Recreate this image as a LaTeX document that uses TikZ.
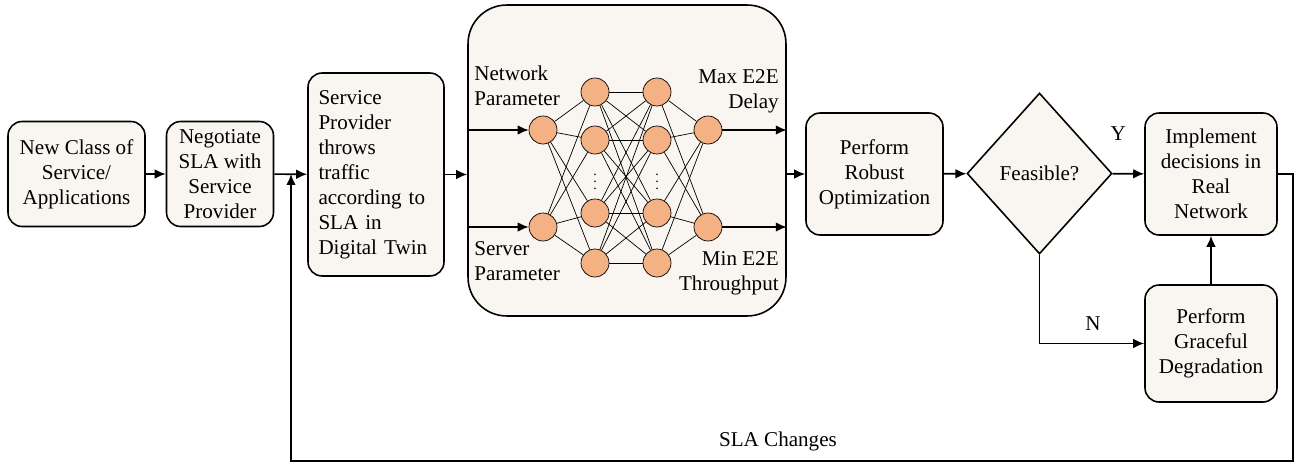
\documentclass[tikz,border=0pt]{standalone}
\usepackage{fontspec}
\setmainfont{Liberation Serif}
\usepackage{tikz}
\usetikzlibrary{shapes.geometric, arrows.meta, positioning, calc}

\definecolor{boxfill}{HTML}{F9F5F0}
\definecolor{neuron}{HTML}{F4B183}

\begin{document}
\begin{tikzpicture}[
  x=0.02cm, y=-0.02cm,
  every node/.style={font=\fontsize{12}{14.2}\selectfont},
  block/.style={draw, line width=0.9pt, fill=boxfill, rounded corners=8pt,
                align=center, minimum width=#1, inner sep=2pt},
  decision/.style={draw, line width=0.9pt, fill=boxfill, diamond, inner sep=0pt,
                   minimum width=2.9cm, minimum height=3.22cm},
  unit/.style={circle, draw, line width=0.4pt, fill=neuron, minimum size=0.56cm, inner sep=0pt},
  dots/.style={inner sep=0pt, font=\fontsize{8}{8}\selectfont},
  flow/.style={line width=0.9pt, -{Latex[length=2.2mm,width=1.9mm]}},
  link/.style={line width=0.4pt},
  lbl/.style={inner sep=0pt},
]
\useasboundingbox (0,0) rectangle (1301,466);

% main chain
\node[block=2.74cm, minimum height=2.1cm]  (newcls) at (76.5,174) {New Class of\\Service/\\Applications};
\node[block=2.14cm, minimum height=2.1cm]  (nego)   at (220,174)  {Negotiate\\SLA with\\Service\\Provider};
\node[block=2.72cm, minimum height=4.06cm, align=left, text width=2.3cm] (twin) at (376,174.5)
  {Service\\Provider\\throws\\traffic\\according to\\SLA in\\Digital Twin};
\node[block=6.36cm, minimum height=6.22cm, rounded corners=22pt] (nn) at (627,160.5) {};
\node[block=2.74cm, minimum height=2.44cm] (robust) at (874.5,174) {Perform\\Robust\\Optimization};
\node[decision] (feas) at (1039.5,173.5) {Feasible?};
\node[block=2.64cm, minimum height=2.44cm] (impl)   at (1211,174) {Implement\\decisions in\\Real\\Network};
\node[block=2.64cm, minimum height=2.34cm] (grace)  at (1211,343.5) {Perform\\Graceful\\Degradation};

% network inside the twin
\node[unit] (i1) at (543,130) {};
\node[unit] (i2) at (543,227) {};
\foreach \n/\yy in {1/92, 2/140, 3/213, 4/263} {
  \node[unit] (a\n) at (595,\yy) {};
  \node[unit] (b\n) at (657,\yy) {};
}
\node[unit] (o1) at (708,130) {};
\node[unit] (o2) at (708,227) {};
\node[dots] (adots) at (595,177) {$\vdots$};
\node[dots] (bdots) at (657,177) {$\vdots$};

\foreach \i in {1,2} \foreach \j in {1,...,4} \draw[link] (i\i) -- (a\j);
\foreach \i in {1,...,4} \foreach \j in {1,...,4} \draw[link] (a\i) -- (b\j);
\foreach \i in {1,...,4} \foreach \j in {1,2} \draw[link] (b\i) -- (o\j);

\draw[flow] (nn.west |- i1) -- (i1);
\draw[flow] (nn.west |- i2) -- (i2);
\draw[flow] (o1) -- (o1 -| nn.east);
\draw[flow] (o2) -- (o2 -| nn.east);

\node[lbl, anchor=west, align=left]  at (474,86)  {Network\\Parameter};
\node[lbl, anchor=west, align=left]  at (474,261) {Server\\Parameter};
\node[lbl, anchor=east, align=right] at (779,91)  {Max E2E\\Delay};
\node[lbl, anchor=east, align=right] at (779,273) {Min E2E\\Throughput};

% connectors
\coordinate (fbin)   at (291,174);
\coordinate (fbturn) at (1293,461);
\draw[flow] (newcls) -- (nego);
\draw[flow] (nego) -- (twin);
\draw[flow] (twin) -- (nn.west |- twin);
\draw[flow] (nn.east |- robust) -- (robust);
\draw[flow] (robust) -- (feas);
\draw[flow] (feas) -- node[lbl, pos=0.18, above=18.5pt] {Y} (impl);
\draw[flow] (feas.south) |- node[lbl, pos=0.755, above=7pt] {N} (grace.west);
\draw[flow] (grace) -- (impl);
\draw[flow] (impl.east) -| (fbturn) -| node[lbl, pos=0.257, above=5pt] {SLA Changes} (fbin);
\end{tikzpicture}
\end{document}
